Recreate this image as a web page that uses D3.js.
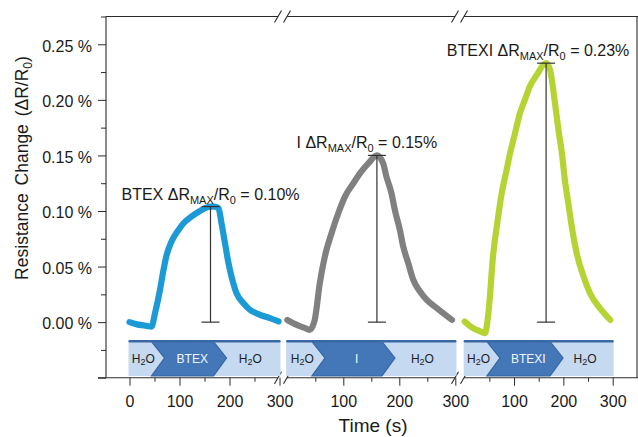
<!DOCTYPE html>
<html>
<head>
<meta charset="utf-8">
<script src="https://cdn.jsdelivr.net/npm/d3@7"></script>
<style>
  html, body { margin: 0; padding: 0; background: #fff; }
  svg { display: block; font-family: "Liberation Sans", Arial, Helvetica, sans-serif; }
</style>
</head>
<body>
<svg id="chart" width="638" height="437"></svg>
<script>
// ---- Axis ticks ----
const timeTicks = [0, 100, 200, 300];
const timeMinorTicks = [50, 150, 250];
const responseTicks = [-0.05, 0, 0.05, 0.10, 0.15, 0.20, 0.25];
const responseLabelTicks = [0, 0.05, 0.10, 0.15, 0.20, 0.25];
const responseMinorTicks = [-0.025, 0.025, 0.075, 0.125, 0.175, 0.225, 0.275];

// ---- Exposures (one panel each) ----
const exposures = ["BTEX", "I", "BTEXI"];
const peakValues = [0.104, 0.150, 0.233];   // % at the response maximum
const peakTimes = [162, 160, 165];          // s
const analyteStart = [44, 44, 45];          // s, analyte flow on
const analyteEnd = [168, 169, 173];         // s, analyte flow off

// ---- Response curves: time (s) and resistance change (%) ----
const btexTime = [0, 15, 30, 44, 51, 61, 68, 74, 84, 98, 108, 124, 141, 161, 171, 178, 184, 191, 198, 204, 214, 228, 241, 261, 281, 298];
const btexValue = [0.000, -0.002, -0.003, -0.004, 0.008, 0.029, 0.047, 0.060, 0.0725, 0.083, 0.089, 0.095, 0.100, 0.104, 0.104, 0.1025, 0.089, 0.071, 0.053, 0.041, 0.026, 0.017, 0.011, 0.0066, 0.0036, 0.0006];

const iTime = [0, 17, 30, 40, 49, 58, 67, 79, 91, 103, 118, 130, 145, 160, 171, 177, 186, 192, 201, 207, 216, 225, 237, 249, 267, 294];
const iValue = [0.002, -0.0024, -0.005, -0.0069, 0.002, 0.035, 0.059, 0.080, 0.098, 0.113, 0.125, 0.134, 0.143, 0.150, 0.143, 0.131, 0.116, 0.101, 0.083, 0.068, 0.053, 0.038, 0.0275, 0.020, 0.0126, 0.002];

const btexiTime = [0, 17, 30, 41, 48, 58, 65, 75, 85, 92, 102, 112, 122, 132, 146, 165, 173, 183, 190, 197, 203, 210, 217, 227, 241, 254, 274, 295];
const btexiValue = [0.0005, -0.0054, -0.008, -0.0099, 0.008, 0.062, 0.086, 0.116, 0.137, 0.152, 0.170, 0.188, 0.200, 0.212, 0.2224, 0.233, 0.227, 0.197, 0.173, 0.152, 0.128, 0.107, 0.086, 0.062, 0.041, 0.026, 0.0126, 0.002];

const seriesTimes = [btexTime, iTime, btexiTime];
const seriesValues = [btexValue, iValue, btexiValue];
const seriesColors = ["#1c9ad6", "#808080", "#b6d334"];

// ---- Layout ----
const W = 638, H = 437;
const plotLeft = 106, plotRight = 637, plotTop = 16.5, plotBottom = 377.7;
const segRanges = [[129.5, 279.5], [287.3, 455.3], [464.7, 612.7]];
const breaks = [[278, 287], [455, 464]];
const labelOffsets = [0, -10, -8];
const bannerTop = 340, bannerBottom = 376, chevronDepth = 13;
const axisColor = "#2b2b2b";

const svg = d3.select("#chart");

const y = d3.scaleLinear().domain([-0.05, 0.275]).range([plotBottom, plotTop]);
const xs = segRanges.map(r => d3.scaleLinear().domain([0, 300]).range(r));

// ---- Frame: top border and bottom axis line with break marks ----
function brokenLine(yPos) {
  const pts = [plotLeft - 8, breaks[0][0], breaks[0][1], breaks[1][0], breaks[1][1], plotRight + 1];
  for (let i = 0; i < pts.length; i += 2) {
    svg.append("line")
      .attr("x1", i === 0 && yPos === plotTop ? plotLeft : pts[i]).attr("x2", pts[i + 1])
      .attr("y1", yPos).attr("y2", yPos)
      .attr("stroke", axisColor).attr("stroke-width", 1.1);
  }
  breaks.flat().forEach(bx => {
    svg.append("line")
      .attr("x1", bx - 3.5).attr("y1", yPos + 6)
      .attr("x2", bx + 3.5).attr("y2", yPos - 6)
      .attr("stroke", axisColor).attr("stroke-width", 1.1);
  });
}
brokenLine(plotTop);
brokenLine(plotBottom);

svg.append("line")
  .attr("x1", plotRight).attr("x2", plotRight)
  .attr("y1", plotTop).attr("y2", plotBottom)
  .attr("stroke", axisColor).attr("stroke-width", 1.1);

// ---- Y axis ----
const yAxisG = svg.append("g").attr("transform", `translate(${plotLeft},0)`);
yAxisG.call(d3.axisLeft(y).tickValues(responseTicks).tickSize(8).tickPadding(6)
  .tickFormat(d => responseLabelTicks.some(v => Math.abs(v - d) < 1e-9) ? d3.format(".2f")(d) + " %" : ""));
yAxisG.append("g").call(d3.axisLeft(y).tickValues(responseMinorTicks).tickSize(5).tickFormat(""))
  .select(".domain").remove();
yAxisG.selectAll(".domain").attr("d", `M0,${plotTop}V${plotBottom}`).attr("stroke", axisColor).attr("stroke-width", 1.1);
yAxisG.selectAll(".tick line").attr("stroke", axisColor);
yAxisG.selectAll(".tick text")
  .attr("font-size", 16).attr("fill", "#1a1a1a").attr("dy", "0.42em")
  .attr("font-family", "Liberation Sans, Arial, sans-serif");

// ---- X axes, one per exposure panel ----
xs.forEach((x, i) => {
  const major = i === 0 ? timeTicks : timeTicks.filter(t => t > 0);
  const g = svg.append("g").attr("transform", `translate(0,${plotBottom})`);
  g.call(d3.axisBottom(x).tickValues(major).tickSize(8).tickFormat(d3.format("d")));
  g.append("g").call(d3.axisBottom(x).tickValues(timeMinorTicks).tickSize(4).tickFormat(""))
    .select(".domain").remove();
  g.selectAll(".domain").remove();
  g.selectAll(".tick line").attr("stroke", axisColor);
  g.selectAll(".tick text")
    .attr("font-size", 16).attr("fill", "#1a1a1a")
    .attr("y", 29).attr("dy", 0)
    .attr("font-family", "Liberation Sans, Arial, sans-serif");
});

// ---- Axis titles ----
svg.append("text")
  .attr("x", 373).attr("y", 432)
  .attr("text-anchor", "middle").attr("font-size", 19).attr("fill", "#1a1a1a")
  .text("Time (s)");

const yTitle = svg.append("text")
  .attr("transform", "translate(28,168) rotate(-90)")
  .attr("text-anchor", "middle").attr("font-size", 17.5).attr("fill", "#1a1a1a")
  .attr("word-spacing", 3);
yTitle.append("tspan").text("Resistance Change (ΔR/R");
yTitle.append("tspan").text("0").attr("font-size", 12).attr("dy", 4);
yTitle.append("tspan").text(")").attr("dy", -4);

// Text with subscript parts
function richText(sel, parts, subSize, shift) {
  let down = false;
  parts.forEach(p => {
    const ts = sel.append("tspan").text(p.t);
    if (p.sub) {
      ts.attr("font-size", subSize);
      if (!down) { ts.attr("dy", shift); down = true; }
    } else if (down) {
      ts.attr("dy", -shift); down = false;
    }
  });
}

// ---- Gas-flow banners beneath each panel ----
xs.forEach((x, i) => {
  const g = svg.append("g");
  const x0 = x(-2), x1 = x(302);
  const cl = x(analyteStart[i]), cr = x(analyteEnd[i]);
  const ym = (bannerTop + bannerBottom) / 2;

  g.append("rect")
    .attr("x", x0).attr("y", bannerTop).attr("width", x1 - x0).attr("height", bannerBottom - bannerTop)
    .attr("fill", "#c5d9f0");
  g.append("polygon")
    .attr("points", [
      [cl, bannerTop + 1.5], [cr, bannerTop + 1.5], [cr + chevronDepth, ym],
      [cr, bannerBottom], [cl, bannerBottom], [cl + chevronDepth, ym]
    ].map(p => p.join(",")).join(" "))
    .attr("fill", "#4477b8").attr("stroke", "#35659f").attr("stroke-width", 1.2)
    .attr("stroke-linejoin", "miter");
  g.append("rect")
    .attr("x", x0).attr("y", bannerTop).attr("width", x1 - x0).attr("height", 2.5)
    .attr("rx", 1.2).attr("fill", "#3a68a3");

  const leftC = (x0 + cl + chevronDepth / 2) / 2;
  const midC = (cl + chevronDepth + cr + chevronDepth / 2) / 2;
  const rightC = (cr + chevronDepth / 2 + x1) / 2;

  [leftC, rightC].forEach(cx => {
    const t = g.append("text").attr("x", cx).attr("y", ym + 4.5)
      .attr("text-anchor", "middle").attr("font-size", 12).attr("fill", "#1e1e1e");
    richText(t, [{ t: "H" }, { t: "2", sub: true }, { t: "O" }], 9, 2.5);
  });
  g.append("text").attr("x", midC).attr("y", ym + 4.5)
    .attr("text-anchor", "middle").attr("font-size", 12).attr("fill", "#f2f6fb")
    .text(exposures[i]);
});

// ---- Response curves ----
xs.forEach((x, i) => {
  const pts = seriesTimes[i].map((t, k) => [t, seriesValues[i][k]]);
  const line = d3.line().x(d => x(d[0])).y(d => y(d[1])).curve(d3.curveMonotoneX);
  svg.append("path")
    .attr("d", line(pts))
    .attr("fill", "none").attr("stroke", seriesColors[i])
    .attr("stroke-width", 6.2).attr("stroke-linecap", "round").attr("stroke-linejoin", "round");
});

// ---- Maximum response markers and labels ----
xs.forEach((x, i) => {
  const px = x(peakTimes[i]);
  const y0 = y(0), y1 = y(peakValues[i]);
  const g = svg.append("g").attr("stroke", "#333").attr("stroke-width", 1.2);
  g.append("line").attr("x1", px).attr("x2", px).attr("y1", y0).attr("y2", y1);
  g.append("line").attr("x1", px - 9).attr("x2", px + 9).attr("y1", y0).attr("y2", y0);
  g.append("line").attr("x1", px - 9).attr("x2", px + 9).attr("y1", y1).attr("y2", y1);

  const t = svg.append("text")
    .attr("x", px + labelOffsets[i]).attr("y", y1 - 7)
    .attr("text-anchor", "middle").attr("font-size", 16).attr("fill", "#1a1a1a");
  richText(t, [
    { t: exposures[i] + " ΔR" }, { t: "MAX", sub: true },
    { t: "/R" }, { t: "0", sub: true },
    { t: " = " + peakValues[i].toFixed(2) + "%" }
  ], 11, 4);
});
</script>
</body>
</html>
